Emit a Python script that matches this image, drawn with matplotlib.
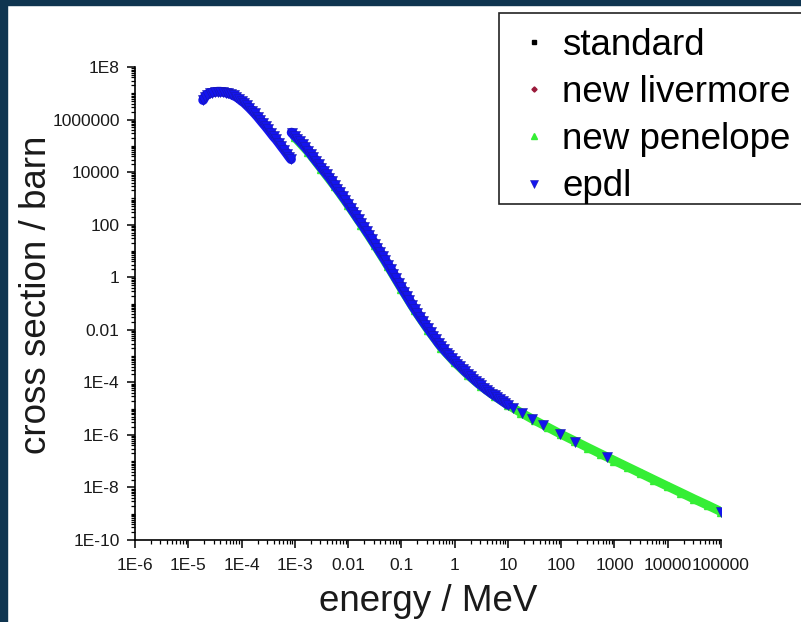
import numpy as np
import matplotlib
matplotlib.use('Agg')
import matplotlib.pyplot as plt
from matplotlib.patches import Rectangle
from matplotlib.ticker import LogLocator, NullFormatter

plt.rcParams['font.family'] = ['Liberation Sans', 'DejaVu Sans']

# photoelectric cross section (barn) vs photon energy (MeV)
# epdl: below the K edge
epdl_e_below = [1.9e-5, 2.04e-5, 2.24e-5, 2.51e-5, 2.82e-5, 3.16e-5, 3.55e-5, 3.98e-5,
                4.47e-5, 5.01e-5, 5.62e-5, 6.31e-5, 7.08e-5, 7.94e-5, 8.91e-5, 1.0e-4,
                1.12e-4, 1.26e-4, 1.41e-4, 1.58e-4, 1.78e-4, 2.0e-4, 2.24e-4, 2.51e-4,
                2.82e-4, 3.16e-4, 3.55e-4, 3.98e-4, 4.47e-4, 5.01e-4, 5.62e-4, 6.31e-4,
                7.08e-4, 7.94e-4, 8.5e-4]
epdl_xs_below = [5.5e6, 7.2e6, 8.9e6, 1.0e7, 1.07e7, 1.12e7, 1.15e7, 1.15e7,
                 1.12e7, 1.07e7, 1.0e7, 9.3e6, 8.3e6, 7.4e6, 6.3e6, 5.2e6,
                 4.4e6, 3.5e6, 2.8e6, 2.2e6, 1.7e6, 1.3e6, 9.8e5, 7.4e5,
                 5.6e5, 4.2e5, 3.1e5, 2.3e5, 1.76e5, 1.3e5, 9.5e4, 7.0e4,
                 5.1e4, 3.7e4, 3.1e4]

# epdl: dense grid above the K edge
epdl_e_above = [8.7e-4, 1.0e-3, 1.12e-3, 1.26e-3, 1.41e-3, 1.58e-3, 1.78e-3, 2.0e-3,
                2.24e-3, 2.51e-3, 2.82e-3, 3.16e-3, 3.55e-3, 3.98e-3, 4.47e-3, 5.01e-3,
                5.62e-3, 6.31e-3, 7.08e-3, 7.94e-3, 8.91e-3, 0.01, 0.0112, 0.0126,
                0.0141, 0.0158, 0.0178, 0.02, 0.0224, 0.0251, 0.0282, 0.0316,
                0.0355, 0.0398, 0.0447, 0.0501, 0.0562, 0.0631, 0.0708, 0.0794,
                0.0891, 0.1, 0.112, 0.126, 0.141, 0.158, 0.178, 0.2,
                0.224, 0.251, 0.282, 0.316, 0.355, 0.398, 0.447, 0.501,
                0.562, 0.631, 0.708, 0.794, 0.891, 1.0, 1.12, 1.26,
                1.41, 1.58, 1.78, 2.0, 2.24, 2.51, 2.82, 3.16,
                3.55, 3.98, 4.47, 5.01, 5.62, 6.31, 7.08, 7.94,
                8.91, 10.0]
epdl_xs_above = [3.2e5, 2.4e5, 1.9e5, 1.48e5, 1.15e5, 8.9e4, 6.6e4, 4.9e4,
                 3.6e4, 2.7e4, 2.0e4, 1.48e4, 1.1e4, 8.3e3, 6.2e3, 4.5e3,
                 3.2e3, 2.3e3, 1.7e3, 1.23e3, 890, 630, 450, 316,
                 224, 158, 112, 79, 56, 40, 27.5, 19,
                 13.2, 9.1, 6.3, 4.4, 2.95, 2.0, 1.35, 0.91,
                 0.62, 0.42, 0.285, 0.195, 0.133, 0.091, 0.063, 0.0437,
                 0.031, 0.0221, 0.0158, 0.0114, 8.1e-3, 5.9e-3, 4.3e-3, 3.1e-3,
                 2.34e-3, 1.78e-3, 1.36e-3, 1.06e-3, 8.3e-4, 6.5e-4, 5.2e-4, 4.2e-4,
                 3.3e-4, 2.6e-4, 2.1e-4, 1.7e-4, 1.38e-4, 1.12e-4, 9.1e-5, 7.6e-5,
                 6.3e-5, 5.2e-5, 4.4e-5, 3.7e-5, 3.2e-5, 2.7e-5, 2.3e-5, 1.95e-5,
                 1.66e-5, 1.41e-5]

# epdl: sparse high energy points
epdl_e_tail = [12.3, 18.2, 28.2, 44.7, 93.3, 182, 724, 1.0e5]
epdl_xs_tail = [1.07e-5, 6.8e-6, 4.1e-6, 2.45e-6, 1.12e-6, 5.6e-7, 1.41e-7, 1.17e-9]

penelope_e = [1.0e-3, 1.78e-3, 3.16e-3, 5.62e-3, 0.01, 0.0178, 0.0316, 0.0562,
              0.1, 0.178, 0.316, 0.562, 1.0, 1.78, 3.16, 5.62,
              10, 17.8, 31.6, 56.2, 100, 178, 316, 562,
              1000, 1780, 3160, 5620, 1.0e4, 1.78e4, 3.16e4, 5.62e4, 1.0e5]
penelope_xs = [2.1e5, 5.9e4, 1.32e4, 2.9e3, 560, 100, 17, 2.6,
               0.37, 0.056, 0.0101, 2.1e-3, 5.8e-4, 1.9e-4, 7.1e-5, 3.0e-5,
               1.38e-5, 6.9e-6, 3.6e-6, 1.95e-6, 1.05e-6, 5.9e-7, 3.3e-7, 1.86e-7,
               1.05e-7, 5.96e-8, 3.4e-8, 1.93e-8, 1.1e-8, 6.3e-9, 3.6e-9, 2.1e-9, 1.2e-9]

standard_e = [1.0e-3, 0.01, 0.1, 1.0, 10, 100, 1000, 1.0e4, 1.0e5]
standard_xs = [2.1e5, 560, 0.37, 5.8e-4, 1.38e-5, 1.05e-6, 1.05e-7, 1.1e-8, 1.2e-9]

livermore_e = [3.16e-5, 1.0e-4, 3.16e-4, 3.16e-3, 0.0316, 0.316, 3.16, 31.6, 316, 3160, 3.16e4]
livermore_xs = [1.12e7, 5.2e6, 4.2e5, 1.48e4, 19, 0.0114, 7.6e-5, 3.6e-6, 3.3e-7, 3.4e-8, 3.6e-9]

x_ticks = [1e-6, 1e-5, 1e-4, 1e-3, 1e-2, 1e-1, 1, 10, 100, 1000, 1e4, 1e5]
x_labels = ['1E-6', '1E-5', '1E-4', '1E-3', '0.01', '0.1', '1', '10', '100',
            '1000', '10000', '100000']
y_ticks = [1e8, 1e6, 1e4, 100, 1, 0.01, 1e-4, 1e-6, 1e-8, 1e-10]
y_labels = ['1E8', '1000000', '10000', '100', '1', '0.01', '1E-4', '1E-6', '1E-8', '1E-10']

blue = '#1414ee'
navy = '#1818b0'
green = '#35ee35'
text_col = '#1a1a1a'

fig = plt.figure(figsize=(8.01, 6.22), dpi=100)
ax = fig.add_axes([135 / 801, 1 - 540 / 622, (721 - 135) / 801, (540 - 67) / 622])
ax.set_xscale('log')
ax.set_yscale('log')

h_std, = ax.plot(standard_e, standard_xs, ls='none', marker='s', ms=3.5,
                 color='black', zorder=2, label='standard')
h_liv, = ax.plot(livermore_e, livermore_xs, ls='none', marker='D', ms=3.5,
                 color='#9a1a3a', zorder=2, label='new livermore')

ax.plot(penelope_e, penelope_xs, '-', lw=6.5, color=green, solid_capstyle='round', zorder=3)
h_pen, = ax.plot(penelope_e, penelope_xs, ls='none', marker='^', ms=6,
                 color=green, zorder=3, label='new penelope')

for e, xs in [(epdl_e_below, epdl_xs_below), (epdl_e_above, epdl_xs_above)]:
    ax.plot(e, xs, '-', lw=7, color=blue, solid_capstyle='round', zorder=4)
epdl_e = epdl_e_below + epdl_e_above + epdl_e_tail
epdl_xs = epdl_xs_below + epdl_xs_above + epdl_xs_tail
h_epdl, = ax.plot(epdl_e, epdl_xs, ls='none', marker='v', ms=7, mfc=blue,
                  mec=navy, mew=0.4, zorder=5, label='epdl')

ax.set_xlim(1e-6, 1e5)
ax.set_ylim(1e-10, 1e8)
ax.set_xticks(x_ticks, x_labels)
ax.set_yticks(y_ticks, y_labels)
ax.xaxis.set_minor_locator(LogLocator(base=10, subs=np.arange(2, 10), numticks=100))
ax.yaxis.set_minor_locator(LogLocator(base=10, subs=np.arange(1, 10), numticks=100))
ax.xaxis.set_minor_formatter(NullFormatter())
ax.yaxis.set_minor_formatter(NullFormatter())
ax.tick_params(which='major', direction='out', length=6, width=1.1, color='black',
               labelsize=12.5, labelcolor=text_col)
ax.tick_params(axis='x', which='major', pad=7)
ax.tick_params(axis='y', which='major', pad=5)
ax.tick_params(which='minor', direction='out', length=3, width=0.9, color='black')
for side in ['top', 'right']:
    ax.spines[side].set_visible(False)
for side in ['left', 'bottom']:
    ax.spines[side].set_linewidth(1.2)

fig.text(37 / 801, 1 - 295 / 622, 'cross section / barn', rotation=90,
         ha='center', va='center', fontsize=26.5, color=text_col)
fig.text(428 / 801, 1 - 611 / 622, 'energy / MeV', ha='center', va='baseline',
         fontsize=26.5, color=text_col)

# legend frame runs off the right edge
fig.add_artist(Rectangle((499 / 801, 1 - 204 / 622), 0.5, 191 / 622,
                         transform=fig.transFigure, facecolor='white',
                         edgecolor='#222222', lw=1.2, zorder=6))
fig.legend([h_std, h_liv, h_pen, h_epdl],
           ['standard', 'new livermore', 'new penelope', 'epdl'],
           loc='upper left', bbox_to_anchor=(516 / 801, 1 - 28 / 622),
           frameon=False, fontsize=26.5, handlelength=1.0, handletextpad=0.26,
           borderpad=0, borderaxespad=0, labelspacing=0.33, markerscale=0.75).set_zorder(7)

# dark page border on the left and top
navy_edge = '#0f3550'
fig.add_artist(Rectangle((0, 0), 7 / 801, 1, transform=fig.transFigure,
                         color=navy_edge, zorder=10))
fig.add_artist(Rectangle((0, 1 - 5 / 622), 1, 5 / 622, transform=fig.transFigure,
                         color=navy_edge, zorder=10))

fig.savefig('out.png', dpi=100)
